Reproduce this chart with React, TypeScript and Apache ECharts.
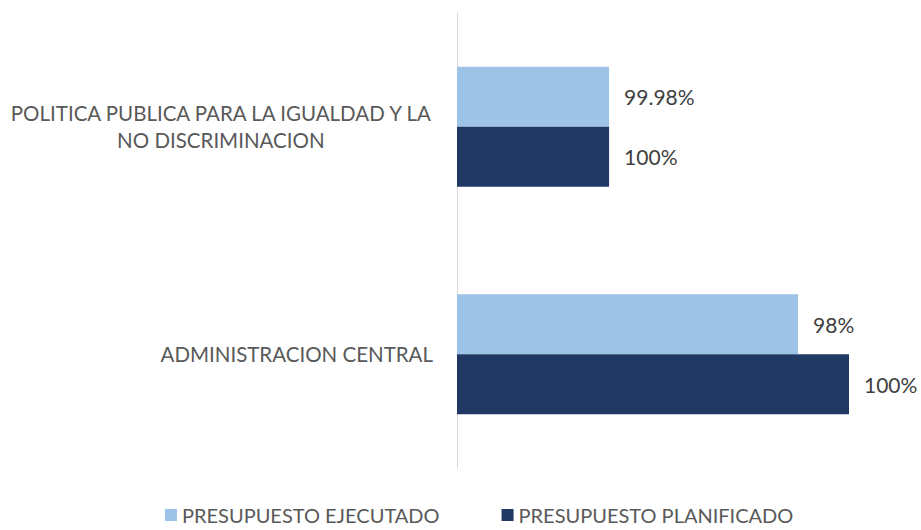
import React, { useEffect, useRef } from "react";
import * as echarts from "echarts";

const categories = [
  "POLITICA PUBLICA PARA LA IGUALDAD Y LA\nNO DISCRIMINACION",
  "ADMINISTRACION CENTRAL",
];
const seriesNames = ["PRESUPUESTO EJECUTADO", "PRESUPUESTO PLANIFICADO"];
const ejecutadoValues = [38.8, 87.0];
const planificadoValues = [38.8, 100];
const ejecutadoLabels = ["99.98%", "98%"];
const planificadoLabels = ["100%", "100%"];

const FONT = 'Lato, "Open Sans", sans-serif';
const CAT_SIZE = 20.5;

export default function App() {
  const ref = useRef<HTMLDivElement>(null);
  useEffect(() => {
    document.body.style.margin = "0";
    if (!ref.current) return;
    const chart = echarts.init(ref.current, undefined, { renderer: "svg" });

    const canvas = document.createElement("canvas");
    const ctx = canvas.getContext("2d")!;
    ctx.font = `${CAT_SIZE}px Lato`;

    let maxW = 0;
    categories.forEach((c) => {
      const ls = c.split("\n");
      if (ls.length > 1) ls.forEach((l) => (maxW = Math.max(maxW, ctx.measureText(l).width)));
    });

    const formatter = (v: string) => {
      const lines = v.split("\n");
      if (lines.length === 1) return v;
      return lines.map((l) => `{c|${l}}`).join("\n");
    };

    const makeLabel = (labels: string[]) => ({
      show: true,
      position: "right" as const,
      distance: 15,
      color: "#404040",
      fontFamily: FONT,
      fontSize: 21,
      formatter: (p: any) => labels[p.dataIndex],
    });

    chart.setOption({
      animation: false,
      backgroundColor: "#ffffff",
      grid: { left: 457, right: 72, top: 13, bottom: 62, containLabel: false },
      legend: {
        top: 505,
        left: 165,
        padding: 0,
        icon: "rect",
        itemWidth: 12,
        itemHeight: 12,
        itemGap: 62,
        textStyle: { color: "#595959", fontFamily: FONT, fontSize: 20 },
        data: seriesNames,
      },
      xAxis: {
        type: "value",
        min: 0,
        max: 100,
        show: false,
        splitLine: { show: false },
      },
      yAxis: {
        type: "category",
        inverse: true,
        data: categories,
        axisLine: { show: true, lineStyle: { color: "#d9d9d9", width: 1 } },
        axisTick: { show: false },
        axisLabel: {
          margin: 24,
          color: "#595959",
          fontFamily: FONT,
          fontSize: CAT_SIZE,
          lineHeight: 27,
          formatter: formatter,
          rich: {
            c: {
              width: maxW,
              align: "center",
              color: "#595959",
              fontFamily: FONT,
              fontSize: CAT_SIZE,
              lineHeight: 27,
            },
          },
        },
      },
      series: [
        {
          name: seriesNames[0],
          type: "bar",
          data: ejecutadoValues,
          barWidth: 60,
          barGap: "0%",
          itemStyle: { color: "#9DC3E6" },
          label: makeLabel(ejecutadoLabels),
        },
        {
          name: seriesNames[1],
          type: "bar",
          data: planificadoValues,
          barWidth: 60,
          barGap: "0%",
          itemStyle: { color: "#203864" },
          label: makeLabel(planificadoLabels),
        },
      ],
    });
    return () => chart.dispose();
  }, []);
  return <div ref={ref} style={{ width: 921, height: 530 }} />;
}
